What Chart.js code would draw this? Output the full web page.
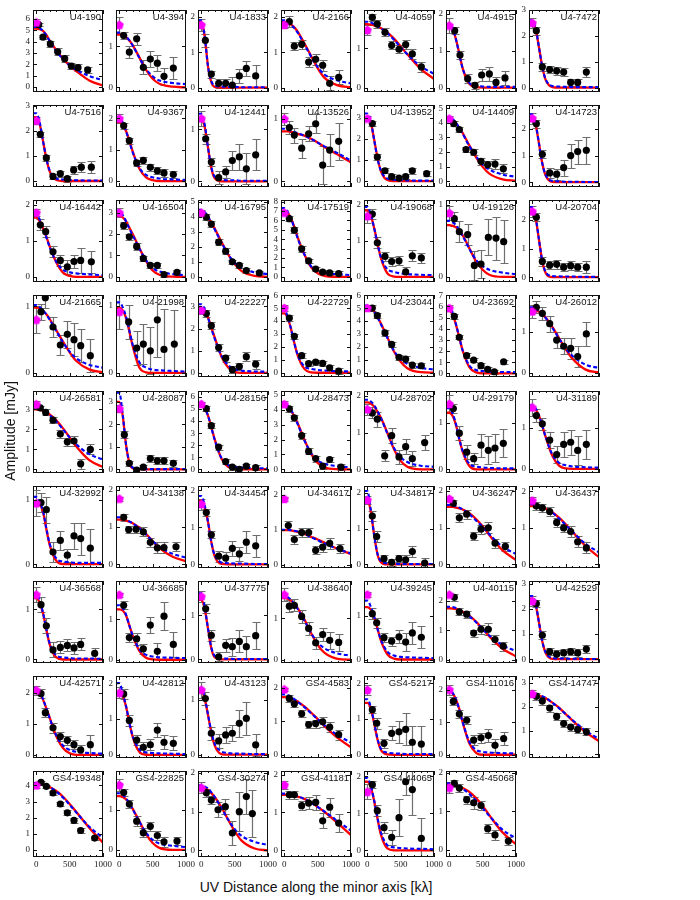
<!DOCTYPE html>
<html>
<head>
<meta charset="utf-8">
<script src="https://cdn.jsdelivr.net/npm/chart.js@4.4.0/dist/chart.umd.min.js"></script>
<style>
body { margin: 0; background: #fff; width: 700px; height: 900px; position: relative; overflow: hidden; font-family: "Liberation Sans", Arial, sans-serif; }
canvas { position: absolute; }
.title { position: absolute; color: #111; font-size: 14px; white-space: nowrap; }
#xt { left: 316px; top: 879px; transform: translateX(-50%); }
#yt { left: 10px; top: 431px; transform: translate(-50%, -50%) rotate(-90deg); }
</style>
</head>
<body>
<div id="fig"></div>
<div class="title" id="xt">UV Distance along the minor axis [kλ]</div>
<div class="title" id="yt">Amplitude [mJy]</div>
<script>
const NAMES = [
  'U4-190','U4-394','U4-1833','U4-2166','U4-4059','U4-4915','U4-7472',
  'U4-7516','U4-9367','U4-12441','U4-13526','U4-13952','U4-14409','U4-14723',
  'U4-16442','U4-16504','U4-16795','U4-17519','U4-19068','U4-19126','U4-20704',
  'U4-21665','U4-21998','U4-22227','U4-22729','U4-23044','U4-23692','U4-26012',
  'U4-26581','U4-28087','U4-28156','U4-28473','U4-28702','U4-29179','U4-31189',
  'U4-32992','U4-34138','U4-34454','U4-34617','U4-34817','U4-36247','U4-36437',
  'U4-36568','U4-36685','U4-37775','U4-38640','U4-39245','U4-40115','U4-42529',
  'U4-42571','U4-42812','U4-43123','GS4-4583','GS4-5217','GS4-11016','GS4-14747',
  'GS4-19348','GS4-22825','GS4-30274','GS4-41181','GS4-44065','GS4-45068'
];

const Y_MAX = [6.8,1.88,2.19,2.19,1.98,2.1,3.0, 3.03,2.43,1.47,1.22,3.6,5.22,2.9,
  2.14,3.59,5.1,8.16,2.14,1.07,2.7, 1.17,1.16,3.52,6.02,6.02,7.03,1.9,
  3.92,3.48,6.5,5.27,2.14,1.69,1.9, 1.22,2.1,2.12,2.26,2.19,2.14,2.15,
  1.56,1.95,1.78,1.91,1.8,2.67,3.1, 2.54,2.2,1.43,2.35,2.2,2.42,3.3,
  4.89,1.98,2.05,2.1,2.14,2.04];
const Y_MIN = [-0.45,-0.11,-0.125,-0.125,-0.11,-0.12,-0.17, -0.24,-0.19,-0.11,-0.09,-0.28,-0.4,-0.18,
  -0.14,-0.24,-0.34,-0.54,-0.14,-0.07,-0.17, -0.06,-0.06,-0.19,-0.33,-0.33,-0.33,-0.1,
  -0.18,-0.16,-0.31,-0.25,-0.1,-0.08,-0.1, -0.06,-0.1,-0.1,-0.1,-0.1,-0.1,-0.1,
  -0.07,-0.08,-0.08,-0.08,-0.08,-0.1,-0.15, -0.1,-0.09,-0.06,-0.1,-0.09,-0.1,-0.15,
  -0.43,-0.18,-0.17,-0.18,-0.18,-0.18];

// binned visibilities (x in k-lambda, amplitude, error)
const PT_X = [
  [35,100,210,320,425,525,625,770],[65,150,260,360,465,570,670,810],[60,150,260,365,465,570,675,815],
  [75,150,260,365,470,575,680,815],[75,150,265,365,475,575,675,810],[80,160,275,385,485,600,700,835],
  [60,150,260,365,470,575,680,810],
  [60,150,250,360,465,560,675,825],[65,150,260,360,465,570,670,810],[65,150,260,365,465,570,675,815],
  [75,150,260,365,470,575,680,815],[75,150,265,365,475,575,675,890],[65,150,250,365,475,575,685,810],
  [60,150,260,365,470,575,680,810],
  [60,140,250,360,465,565,665,825],[65,150,260,360,465,570,670,865],[75,150,260,365,465,570,675,870],
  [75,150,260,365,470,575,680,815],[75,150,265,365,475,575,675,810],[75,150,275,375,475,585,700,815],
  [60,150,260,365,470,575,680,810],
  [70,135,250,360,465,565,665,810],[140,260,360,465,570,670,825],[75,150,260,365,465,570,675,815],
  [75,150,260,365,470,575,680,815],[75,150,265,365,475,575,675,810],[75,150,260,365,475,575,675,815],
  [60,150,260,365,470,575,680,810],
  [60,140,250,360,465,565,665,810],[75,150,260,360,465,570,670,810],[75,150,260,365,465,570,675,815],
  [75,150,260,365,470,575,680,850],[75,150,260,365,475,575,675,860],[60,150,260,365,475,585,685,810],
  [60,150,260,365,470,575,680,810],
  [70,150,250,360,465,565,665,810],[65,140,250,360,465,570,670,850],[75,150,260,365,465,570,675,815],
  [60,150,260,365,470,575,680,835],[75,140,250,365,475,575,675,860],[60,150,260,365,475,585,685,840],
  [60,150,260,365,470,575,680,810],
  [70,150,250,360,465,565,665,875],[65,150,260,360,465,570,670,810],[65,150,260,365,465,570,675,815],
  [75,150,260,365,470,575,680,815],[75,140,250,365,475,575,675,810],[75,150,260,365,475,585,685,810],
  [60,150,260,365,470,575,680,810],
  [70,135,250,360,465,565,665,810],[65,150,260,360,465,570,670,810],[60,150,260,365,465,570,675,815],
  [75,150,260,365,470,575,680,815],[75,140,250,365,475,575,675,810],[60,150,260,365,475,585,685,815],
  [60,150,260,365,470,575,680,810],
  [70,150,250,360,465,565,665,875],[65,150,260,360,465,570,670,865],[75,150,250,360,465,570,675,765],
  [75,150,260,365,470,575,680,815],[75,150,250,365,475,575,675,810],[75,150,260,365,475,575,685,885]
];
const PT_Y = [
  [5.5,4.4,3.8,3.1,2.5,1.85,1.7,1.5],[1.26,0.86,1.18,0.49,0.69,0.59,0.27,0.47],[1.33,0.38,0.12,0.12,0.07,0.33,0.54,0.33],
  [1.86,1.17,1.22,0.72,0.8,0.63,0.12,0.29],[1.79,1.62,1.41,1.08,0.98,1.1,0.86,0.53],[1.54,0.88,0.24,0.06,0.34,0.37,0.14,0.26],
  [2.2,0.8,0.7,0.65,0.6,0.2,0.2,0.6],
  [1.86,0.92,0.18,0.29,0.09,0.44,0.55,0.55],[1.77,1.29,0.58,0.66,0.44,0.33,0.26,0.21],[0.82,0.37,0.07,0.18,0.4,0.47,0.24,0.51],
  [0.86,0.74,0.53,0.76,0.92,0.26,0.5,0.64],[2.72,1.14,0.49,0.21,0.14,0.21,0.49,0.35],[3.95,3.54,2.17,1.98,1.36,1.13,1.17,0.85],
  [2.2,1.05,0.35,0.3,0.55,1.0,1.15,1.2],
  [1.45,1.26,0.7,0.46,0.28,0.43,0.46,0.42],[2.39,1.87,1.42,0.86,0.54,0.54,0.11,0.21],[3.96,3.5,2.3,1.7,1.0,0.76,0.42,0.26],
  [6.18,4.96,2.98,1.7,0.83,0.51,0.42,0.35],[1.75,0.95,0.57,0.43,0.45,0.14,0.59,0.53],[0.81,0.63,0.59,0.16,0.18,0.55,0.54,0.49],
  [2.1,0.55,0.42,0.45,0.35,0.4,0.35,0.35],
  [0.92,1.13,0.69,0.42,0.58,0.5,0.41,0.26],[0.76,0.37,0.43,0.33,0.79,0.35,0.43],[2.68,2.13,1.14,0.66,0.14,0.28,0.73,0.39],
  [4.24,2.82,1.32,0.71,0.82,0.73,0.38,0.12],[5.01,4.42,3.08,2.19,1.2,1.06,0.59,0.54],[5.11,3.24,1.59,1.18,0.69,0.36,0.14,1.04],
  [1.6,1.45,1.2,0.8,0.65,0.6,0.4,0.95],
  [3.08,2.85,2.46,1.77,1.38,1.42,0.28,1.0],[1.54,0.27,-0.03,0.1,0.48,0.38,0.38,0.27],[5.03,3.62,1.84,0.64,0.18,0.0,0.26,0.13],
  [4.07,3.47,2.27,1.2,0.72,0.21,0.66,0.14],[1.54,1.37,0.37,0.92,0.34,0.62,0.29,0.73],[1.31,0.78,0.37,0.23,0.52,0.41,0.46,0.56],
  [1.3,1.1,0.7,0.35,0.6,0.65,0.45,0.6],
  [0.96,0.85,0.19,0.37,0.14,0.44,0.4,0.25],[1.26,0.93,0.94,0.87,0.59,0.44,0.45,0.47],[1.4,0.8,0.22,0.17,0.43,0.28,0.6,0.5],
  [1.12,0.72,0.92,0.92,0.41,0.5,0.61,0.46],[1.35,0.78,0.16,0.06,0.16,0.13,0.36,0.04],[1.67,1.27,1.37,0.77,0.96,1.0,0.58,0.49],
  [1.6,1.55,1.45,1.15,1.0,0.9,0.62,0.45],
  [1.09,0.67,0.19,0.24,0.28,0.23,0.3,0.12],[1.35,0.55,0.52,0.27,0.86,0.21,1.08,0.38],[1.15,0.55,0.06,0.32,0.29,0.41,0.29,0.54],
  [1.3,1.32,1.05,0.76,0.41,0.61,0.47,0.42],[1.05,0.84,0.5,0.42,0.52,0.4,0.61,0.51],[2.12,1.63,1.55,0.91,1.04,1.04,0.69,0.47],
  [2.2,0.95,0.3,0.2,0.25,0.3,0.25,0.4],
  [1.97,1.36,0.87,0.59,0.47,0.33,0.16,0.33],[1.7,0.96,0.41,0.21,0.28,0.69,0.35,0.32],[1.02,0.39,0.25,0.36,0.39,0.57,0.66,0.18],
  [1.68,1.52,1.22,0.9,0.93,0.98,0.82,0.6],[1.26,0.88,0.32,0.6,0.64,0.71,0.35,0.3],[1.64,1.25,1.06,0.45,0.52,0.59,0.29,0.5],
  [2.45,2.25,1.95,1.6,1.3,1.15,1.05,0.95],
  [4.19,3.94,3.53,2.85,2.3,1.83,1.21,0.74],[1.44,1.15,0.72,0.43,0.59,0.36,0.2,0.22],[1.49,1.3,1.05,1.13,0.45,1.0,1.39,0.95],
  [1.47,1.47,1.18,1.25,1.27,0.78,1.14,0.72],[1.77,1.07,0.61,0.35,0.88,1.85,1.64,0.32],[1.72,1.6,1.3,1.22,1.15,0.55,0.39,0.23]
];
const PT_ERR = [
  [0.15,0.2,0.25,0.3,0.3,0.3,0.3,0.3],[0.08,0.14,0.14,0.17,0.19,0.2,0.2,0.26],[0.19,0.1,0.13,0.13,0.22,0.2,0.2,0.3],
  [0.15,0.12,0.12,0.13,0.15,0.15,0.2,0.2],[0.1,0.1,0.1,0.1,0.1,0.12,0.12,0.12],[0.1,0.12,0.12,0.1,0.15,0.18,0.14,0.2],
  [0.15,0.15,0.15,0.15,0.15,0.15,0.15,0.2],
  [0.1,0.12,0.1,0.12,0.12,0.15,0.2,0.25],[0.1,0.1,0.1,0.12,0.12,0.12,0.12,0.12],[0.1,0.08,0.12,0.12,0.18,0.25,0.3,0.3],
  [0.1,0.12,0.15,0.12,0.15,0.3,0.25,0.3],[0.1,0.12,0.12,0.12,0.12,0.12,0.15,0.12],[0.15,0.2,0.2,0.2,0.25,0.25,0.35,0.3],
  [0.15,0.15,0.2,0.2,0.3,0.45,0.45,0.5],
  [0.15,0.15,0.15,0.15,0.2,0.18,0.35,0.3],[0.15,0.15,0.15,0.12,0.12,0.12,0.12,0.12],[0.2,0.2,0.2,0.2,0.15,0.15,0.15,0.15],
  [0.3,0.3,0.3,0.25,0.25,0.25,0.25,0.25],[0.15,0.15,0.12,0.12,0.12,0.15,0.15,0.15],[0.1,0.15,0.15,0.2,0.2,0.25,0.3,0.3],
  [0.15,0.15,0.15,0.15,0.15,0.15,0.15,0.2],
  [0.12,0.15,0.15,0.15,0.2,0.25,0.25,0.25],[0.25,0.25,0.3,0.35,0.55,0.6,0.5],[0.15,0.15,0.15,0.15,0.15,0.15,0.2,0.2],
  [0.2,0.2,0.2,0.2,0.2,0.2,0.2,0.25],[0.2,0.2,0.2,0.2,0.2,0.2,0.2,0.2],[0.2,0.2,0.2,0.2,0.2,0.2,0.2,0.2],
  [0.15,0.15,0.2,0.2,0.2,0.25,0.25,0.3],
  [0.1,0.15,0.15,0.2,0.2,0.25,0.25,0.25],[0.15,0.1,0.1,0.1,0.15,0.15,0.15,0.15],[0.2,0.2,0.2,0.2,0.2,0.2,0.2,0.2],
  [0.2,0.2,0.2,0.2,0.2,0.2,0.2,0.2],[0.15,0.2,0.15,0.2,0.2,0.2,0.2,0.2],[0.1,0.15,0.15,0.12,0.25,0.3,0.3,0.3],
  [0.15,0.15,0.2,0.2,0.3,0.3,0.35,0.35],
  [0.15,0.2,0.15,0.15,0.1,0.2,0.25,0.3],[0.1,0.1,0.1,0.12,0.12,0.15,0.15,0.12],[0.1,0.1,0.15,0.15,0.2,0.2,0.3,0.3],
  [0.12,0.12,0.12,0.12,0.12,0.15,0.15,0.12],[0.15,0.15,0.1,0.1,0.1,0.12,0.15,0.15],[0.1,0.12,0.12,0.1,0.12,0.15,0.12,0.12],
  [0.1,0.1,0.12,0.12,0.12,0.15,0.15,0.15],
  [0.15,0.15,0.15,0.12,0.12,0.12,0.12,0.1],[0.1,0.12,0.15,0.12,0.2,0.2,0.35,0.3],[0.1,0.12,0.1,0.15,0.2,0.25,0.25,0.3],
  [0.15,0.15,0.15,0.15,0.15,0.15,0.2,0.2],[0.12,0.12,0.1,0.1,0.15,0.2,0.25,0.25],[0.12,0.12,0.12,0.12,0.15,0.2,0.15,0.15],
  [0.15,0.15,0.15,0.15,0.15,0.15,0.15,0.15],
  [0.15,0.15,0.15,0.15,0.15,0.15,0.15,0.3],[0.15,0.15,0.15,0.15,0.15,0.2,0.2,0.2],[0.12,0.12,0.12,0.15,0.15,0.25,0.3,0.2],
  [0.1,0.1,0.1,0.1,0.12,0.15,0.15,0.15],[0.1,0.15,0.12,0.2,0.3,0.45,0.45,0.5],[0.12,0.12,0.12,0.15,0.15,0.2,0.2,0.2],
  [0.15,0.15,0.15,0.15,0.15,0.15,0.15,0.15],
  [0.1,0.1,0.15,0.15,0.15,0.15,0.15,0.1],[0.1,0.1,0.12,0.12,0.12,0.12,0.12,0.1],[0.1,0.1,0.2,0.2,0.3,0.5,0.45,0.6],
  [0.1,0.1,0.12,0.15,0.2,0.2,0.25,0.25],[0.1,0.15,0.15,0.2,0.5,0.35,0.7,0.55],[0.1,0.1,0.1,0.15,0.12,0.12,0.12,0.1]
];

// magenta point at zero spacing
const MAG_Y = [5.7,1.52,1.77,1.77,1.47,1.68,2.5, 2.41,2.0,1.21,1.0,2.96,4.29,2.4,
  1.79,3.0,4.26,6.82,1.69,0.89,2.3, 0.8,0.91,2.83,5.01,5.01,5.85,1.5,
  3.26,2.7,5.41,4.38,1.64,1.41,1.5, 0.95,1.76,1.63,1.89,1.8,1.79,1.75,
  1.29,1.61,1.43,1.58,1.49,2.21,2.3, 2.08,1.73,1.18,1.95,1.81,2.0,2.55,
  4.0,1.63,1.62,1.73,1.58,1.61];
const MAG_ERR = [0.3,0.2,0.17,0.1,0.12,0.2,0.2, 0.15,0.15,0.15,0.1,0.12,0.2,0.2,
  0.1,0.2,0.2,0.3,0.2,0.1,0.2, 0.2,0.25,0.15,0.2,0.2,0.3,0.15,
  0.15,0.15,0.2,0.2,0.15,0.2,0.2, 0.2,0.05,0.15,0.05,0.12,0.05,0.1,
  0.15,0.05,0.12,0.15,0.05,0.05,0.2, 0.15,0.15,0.15,0.05,0.15,0.15,0.15,
  0.15,0.15,0.15,0.1,0.2,0.15];

// model curves read at these x positions
const CURVE_X = [0,50,100,150,200,300,400,500,600,800,1000];
const RED = [
  [5.15,5.1,4.95,4.6,4.1,3.25,2.5,1.9,1.4,0.55,0.12],[1.28,1.26,1.22,1.14,1.03,0.73,0.43,0.21,0.09,0.02,0],
  [1.85,1.45,0.6,0.15,0.02,0,0,0,0,0,0],[1.85,1.83,1.78,1.7,1.58,1.25,0.9,0.55,0.28,0.06,0.01],
  [1.62,1.61,1.59,1.56,1.52,1.41,1.25,1.05,0.85,0.48,0.22],[1.7,1.6,1.3,0.92,0.52,0.1,0.01,0,0,0,0],
  [2.5,2.25,1.55,0.8,0.3,0.02,0,0,0,0,0],
  [2.55,2.27,1.6,0.9,0.38,0.04,0,0,0,0,0],[1.88,1.8,1.6,1.3,0.95,0.4,0.12,0.03,0,0,0],
  [1.2,1.05,0.65,0.25,0.06,0,0,0,0,0,0],[0.8,0.8,0.79,0.78,0.76,0.73,0.68,0.62,0.55,0.43,0.3],
  [3.0,2.8,2.0,1.15,0.5,0.05,0,0,0,0,0],[4.2,4.13,3.95,3.65,3.3,2.45,1.65,0.98,0.52,0.12,0.03],
  [2.45,2.15,1.45,0.7,0.25,0.01,0,0,0,0,0],
  [1.65,1.55,1.35,1.12,0.85,0.4,0.12,0.03,0,0,0],[2.85,2.78,2.6,2.3,2.0,1.35,0.75,0.3,0.1,0.01,0],
  [4.3,4.2,3.95,3.6,3.2,2.35,1.5,0.85,0.4,0.06,0],[7.0,6.8,6.2,5.3,4.2,2.4,1.05,0.38,0.12,0.01,0],
  [1.85,1.72,1.38,0.95,0.55,0.1,0.01,0,0,0,0],[0.72,0.71,0.69,0.64,0.58,0.4,0.22,0.1,0.03,0,0],
  [2.35,2.05,1.3,0.55,0.15,0,0,0,0,0,0],
  [0.98,0.97,0.93,0.88,0.81,0.64,0.47,0.31,0.18,0.05,0.01],[0.97,0.93,0.82,0.62,0.4,0.08,0.01,0,0,0,0],
  [2.9,2.8,2.5,2.05,1.6,0.75,0.25,0.05,0,0,0],[4.6,4.25,3.4,2.3,1.35,0.3,0.03,0,0,0,0],
  [5.1,5.0,4.75,4.35,3.85,2.75,1.65,0.85,0.35,0.04,0],[5.6,5.25,4.35,3.2,2.05,0.55,0.08,0,0,0,0],
  [1.55,1.53,1.49,1.43,1.35,1.12,0.85,0.58,0.35,0.08,0.01],
  [3.0,2.98,2.93,2.85,2.75,2.45,2.05,1.6,1.15,0.45,0.12],[3.0,2.4,1.1,0.3,0.05,0,0,0,0,0,0],
  [5.3,5.05,4.45,3.5,2.5,0.9,0.2,0.03,0,0,0],[4.3,4.2,3.95,3.55,3.1,2.0,1.05,0.42,0.13,0.01,0],
  [1.83,1.8,1.72,1.58,1.42,1.0,0.55,0.23,0.07,0,0],[1.22,1.15,0.95,0.65,0.38,0.07,0,0,0,0,0],
  [1.5,1.45,1.3,1.05,0.78,0.32,0.08,0.01,0,0,0],
  [0.95,0.93,0.82,0.55,0.3,0.05,0,0,0,0,0],[1.2,1.19,1.17,1.14,1.1,0.98,0.82,0.62,0.44,0.2,0.08],
  [1.72,1.55,1.15,0.6,0.22,0.01,0,0,0,0,0],[0.99,0.99,0.98,0.96,0.94,0.88,0.8,0.72,0.63,0.45,0.3],
  [1.78,1.5,0.85,0.3,0.07,0,0,0,0,0,0],[1.57,1.57,1.55,1.53,1.5,1.4,1.24,1.04,0.8,0.38,0.12],
  [1.6,1.6,1.58,1.56,1.53,1.43,1.28,1.1,0.9,0.5,0.2],
  [1.22,1.13,0.92,0.6,0.3,0.04,0,0,0,0,0],[1.25,1.22,1.1,0.85,0.6,0.22,0.05,0.01,0,0,0],
  [1.35,1.15,0.7,0.25,0.05,0,0,0,0,0,0],[1.5,1.48,1.43,1.35,1.25,0.98,0.65,0.36,0.17,0.02,0],
  [1.2,1.15,0.98,0.72,0.45,0.12,0.02,0,0,0,0],[1.75,1.74,1.72,1.68,1.63,1.5,1.3,1.05,0.8,0.38,0.12],
  [2.4,2.15,1.45,0.7,0.25,0.01,0,0,0,0,0],
  [2.05,1.98,1.78,1.5,1.2,0.6,0.22,0.05,0,0,0],[1.75,1.65,1.35,0.9,0.5,0.08,0,0,0,0,0],
  [1.15,1.02,0.72,0.4,0.17,0.01,0,0,0,0,0],[1.72,1.71,1.68,1.64,1.58,1.44,1.26,1.06,0.86,0.5,0.22],
  [1.45,1.3,0.9,0.45,0.15,0.01,0,0,0,0,0],[1.95,1.88,1.7,1.4,1.0,0.35,0.06,0,0,0,0],
  [2.5,2.49,2.46,2.42,2.36,2.18,1.97,1.7,1.43,0.94,0.56],
  [4.1,4.09,4.05,3.98,3.9,3.65,3.3,2.85,2.35,1.35,0.45],[1.35,1.33,1.27,1.17,1.03,0.72,0.4,0.17,0.05,0,0],
  [1.62,1.6,1.56,1.48,1.38,1.12,0.8,0.5,0.26,0.05,0],[1.47,1.47,1.46,1.44,1.42,1.36,1.27,1.15,1.02,0.72,0.4],
  [1.85,1.72,1.35,0.88,0.45,0.05,0,0,0,0,0],[1.68,1.68,1.66,1.63,1.6,1.5,1.34,1.14,0.9,0.45,0.15]
];
const BLUE = [
  [5.3,5.2,4.95,4.55,4.05,3.15,2.45,1.9,1.5,0.95,0.6],[1.33,1.3,1.24,1.14,1.02,0.72,0.45,0.27,0.17,0.11,0.08],
  [1.9,1.45,0.6,0.18,0.06,0.03,0.02,0.02,0.01,0.01,0.01],[1.9,1.86,1.78,1.68,1.55,1.22,0.88,0.58,0.37,0.2,0.12],
  [1.68,1.66,1.62,1.57,1.52,1.39,1.22,1.03,0.85,0.55,0.35],[1.72,1.62,1.3,0.9,0.52,0.13,0.05,0.03,0.02,0.02,0.02],
  [2.6,2.3,1.55,0.8,0.32,0.06,0.04,0.03,0.02,0.02,0.02],
  [2.7,2.35,1.6,0.9,0.42,0.1,0.06,0.04,0.03,0.02,0.02],[2.0,1.88,1.6,1.25,0.92,0.42,0.2,0.12,0.08,0.05,0.04],
  [1.3,1.1,0.65,0.27,0.09,0.03,0.02,0.02,0.01,0.01,0.01],[0.84,0.83,0.81,0.79,0.77,0.73,0.68,0.62,0.56,0.45,0.33],
  [3.2,2.85,2.0,1.1,0.52,0.12,0.06,0.04,0.03,0.02,0.02],[4.35,4.25,4.0,3.65,3.25,2.4,1.7,1.15,0.8,0.45,0.3],
  [2.55,2.2,1.45,0.7,0.27,0.05,0.03,0.02,0.02,0.01,0.01],
  [1.72,1.6,1.38,1.1,0.83,0.42,0.2,0.13,0.1,0.07,0.05],[3.1,2.9,2.6,2.25,1.95,1.33,0.78,0.42,0.25,0.13,0.08],
  [4.45,4.3,4.0,3.6,3.15,2.3,1.5,0.95,0.6,0.3,0.18],[7.3,6.9,6.2,5.2,4.1,2.4,1.15,0.6,0.42,0.28,0.2],
  [1.95,1.75,1.38,0.95,0.57,0.22,0.14,0.1,0.08,0.06,0.05],[0.78,0.76,0.72,0.65,0.57,0.39,0.24,0.15,0.1,0.06,0.04],
  [2.45,2.1,1.3,0.55,0.18,0.04,0.03,0.02,0.02,0.01,0.01],
  [1.02,0.99,0.94,0.88,0.8,0.63,0.46,0.32,0.22,0.12,0.08],[1.05,0.98,0.84,0.63,0.42,0.16,0.08,0.05,0.04,0.03,0.02],
  [3.1,2.9,2.5,2.0,1.55,0.78,0.35,0.17,0.1,0.06,0.05],[4.85,4.35,3.4,2.3,1.38,0.5,0.3,0.22,0.17,0.12,0.1],
  [5.2,5.05,4.75,4.3,3.8,2.7,1.7,1.05,0.7,0.38,0.25],[5.9,5.4,4.4,3.2,2.05,0.7,0.3,0.2,0.15,0.12,0.1],
  [1.6,1.57,1.51,1.43,1.34,1.1,0.84,0.6,0.42,0.2,0.12],
  [3.1,3.05,2.97,2.86,2.72,2.4,2.0,1.6,1.25,0.75,0.5],[3.4,2.45,1.1,0.32,0.08,0.02,0.01,0.01,0.01,0.01,0.01],
  [5.5,5.15,4.45,3.45,2.45,0.95,0.35,0.2,0.15,0.1,0.08],[4.45,4.3,4.0,3.55,3.05,1.95,1.1,0.6,0.38,0.2,0.13],
  [1.9,1.86,1.76,1.6,1.42,0.98,0.58,0.33,0.2,0.1,0.07],[1.32,1.2,0.97,0.65,0.4,0.12,0.06,0.04,0.03,0.02,0.02],
  [1.55,1.48,1.3,1.05,0.78,0.35,0.15,0.09,0.06,0.04,0.03],
  [1.05,0.97,0.83,0.56,0.32,0.09,0.04,0.03,0.02,0.02,0.02],[1.26,1.24,1.2,1.15,1.1,0.97,0.8,0.62,0.47,0.28,0.18],
  [1.85,1.6,1.15,0.6,0.25,0.05,0.03,0.02,0.02,0.01,0.01],[1.0,1.0,0.99,0.97,0.95,0.88,0.79,0.7,0.61,0.45,0.32],
  [2.05,1.55,0.85,0.32,0.1,0.03,0.02,0.01,0.01,0.01,0.01],[1.62,1.61,1.59,1.55,1.5,1.37,1.2,1.02,0.82,0.48,0.28],
  [1.65,1.64,1.62,1.58,1.54,1.42,1.26,1.08,0.9,0.56,0.33],
  [1.32,1.18,0.93,0.6,0.32,0.08,0.04,0.03,0.02,0.02,0.01],[1.35,1.28,1.12,0.85,0.6,0.26,0.12,0.08,0.06,0.05,0.04],
  [1.5,1.2,0.7,0.27,0.08,0.02,0.02,0.01,0.01,0.01,0.01],[1.55,1.52,1.45,1.35,1.23,0.95,0.65,0.42,0.28,0.15,0.1],
  [1.35,1.22,1.0,0.72,0.47,0.18,0.09,0.06,0.05,0.04,0.03],[1.8,1.79,1.76,1.7,1.63,1.48,1.28,1.05,0.83,0.5,0.3],
  [2.5,2.2,1.45,0.7,0.27,0.05,0.03,0.02,0.02,0.01,0.01],
  [2.15,2.03,1.8,1.5,1.18,0.62,0.3,0.16,0.1,0.06,0.04],[2.0,1.72,1.37,0.9,0.52,0.15,0.07,0.05,0.04,0.03,0.02],
  [1.2,1.05,0.73,0.42,0.2,0.06,0.03,0.02,0.02,0.01,0.01],[1.8,1.78,1.73,1.66,1.58,1.42,1.24,1.06,0.88,0.58,0.36],
  [1.55,1.35,0.92,0.47,0.18,0.06,0.04,0.03,0.02,0.02,0.02],[2.0,1.9,1.7,1.38,1.0,0.4,0.15,0.09,0.07,0.05,0.04],
  [2.55,2.54,2.5,2.45,2.38,2.18,1.95,1.7,1.45,1.0,0.65],
  [4.15,4.13,4.08,4.0,3.9,3.62,3.25,2.8,2.32,1.42,0.75],[1.42,1.38,1.3,1.17,1.02,0.71,0.43,0.25,0.16,0.1,0.07],
  [1.68,1.65,1.6,1.5,1.38,1.1,0.8,0.55,0.38,0.22,0.14],[1.5,1.5,1.48,1.46,1.43,1.36,1.26,1.15,1.03,0.77,0.52],
  [1.95,1.75,1.37,0.9,0.5,0.14,0.08,0.06,0.05,0.04,0.03],[1.72,1.71,1.68,1.64,1.58,1.45,1.28,1.08,0.88,0.52,0.3]
];

const X_MIN = -50, X_MAX = 1000;
const X_MAJOR = [0, 500, 1000];
const X_MINOR = [100, 200, 300, 400, 600, 700, 800, 900];

// layout of the panel grid
const GRID_L = 33, GRID_R = 599, GRID_T = 6, GRID_B = 857;
const PW = 70, PH = 90, COLS = 7, ROWS = 9;
const ML = 16, MR = 12, MB = 15;

function colX(c) { return GRID_L + c * (GRID_R - GRID_L - PW) / (COLS - 1); }
function rowY(r) { return GRID_T + r * (GRID_B - GRID_T - PH) / (ROWS - 1); }

const pentagon = (function () {
  const c = document.createElement('canvas');
  c.width = 10; c.height = 10;
  const g = c.getContext('2d');
  g.fillStyle = '#ff00ff';
  g.beginPath();
  for (let k = 0; k < 5; k++) {
    const a = -Math.PI / 2 + k * 2 * Math.PI / 5;
    const px = 5 + 4.8 * Math.cos(a), py = 5.4 + 4.8 * Math.sin(a);
    if (k) g.lineTo(px, py); else g.moveTo(px, py);
  }
  g.closePath();
  g.fill();
  return c;
})();

function curve(vals) {
  const pts = [{ x: X_MIN, y: vals[0] }];
  CURVE_X.forEach((x, k) => pts.push({ x: x, y: vals[k] }));
  return pts;
}

function panelPlugin(i, bottomRow) {
  return {
    id: 'panel' + i,
    beforeDatasetsDraw(chart) {
      const { ctx, chartArea: a, scales: { x, y } } = chart;
      ctx.save();
      ctx.beginPath();
      ctx.rect(a.left, a.top, a.right - a.left, a.bottom - a.top);
      ctx.clip();
      ctx.strokeStyle = '#6e6e6e';
      ctx.lineWidth = 1.2;
      const bars = PT_X[i].map((v, k) => [v, PT_Y[i][k], PT_ERR[i][k]]);
      bars.push([0, MAG_Y[i], MAG_ERR[i]]);
      bars.forEach(([vx, vy, e]) => {
        const px = Math.round(x.getPixelForValue(vx)) + 0.5;
        const y1 = Math.round(y.getPixelForValue(vy - e)) + 0.5;
        const y2 = Math.round(y.getPixelForValue(vy + e)) + 0.5;
        ctx.beginPath();
        ctx.moveTo(px, y1); ctx.lineTo(px, y2);
        ctx.moveTo(px - 4, y1); ctx.lineTo(px + 4, y1);
        ctx.moveTo(px - 4, y2); ctx.lineTo(px + 4, y2);
        ctx.stroke();
      });
      ctx.restore();
    },
    afterDraw(chart) {
      const { ctx, chartArea: a, scales: { x, y } } = chart;
      ctx.save();
      ctx.strokeStyle = '#111';
      ctx.lineWidth = 1;
      ctx.beginPath();
      X_MAJOR.forEach(v => {
        const px = Math.round(x.getPixelForValue(v)) + 0.5;
        ctx.moveTo(px, a.bottom); ctx.lineTo(px, a.bottom - 4);
        ctx.moveTo(px, a.top); ctx.lineTo(px, a.top + 4);
      });
      X_MINOR.forEach(v => {
        const px = Math.round(x.getPixelForValue(v)) + 0.5;
        ctx.moveTo(px, a.bottom); ctx.lineTo(px, a.bottom - 2);
        ctx.moveTo(px, a.top); ctx.lineTo(px, a.top + 2);
      });
      const yTicks = [];
      for (let v = 0; v <= Y_MAX[i] + 1e-9; v += 1) yTicks.push(v);
      yTicks.forEach(v => {
        const py = Math.round(y.getPixelForValue(v)) + 0.5;
        ctx.moveTo(a.left, py); ctx.lineTo(a.left + 4, py);
        ctx.moveTo(a.right, py); ctx.lineTo(a.right - 4, py);
      });
      ctx.stroke();
      ctx.strokeRect(a.left + 0.5, a.top + 0.5, a.right - a.left - 1, a.bottom - a.top - 1);

      ctx.fillStyle = '#222';
      ctx.font = '9px "Liberation Serif", serif';
      ctx.textAlign = 'right';
      ctx.textBaseline = 'middle';
      yTicks.forEach(v => ctx.fillText(String(v), a.left - 3, y.getPixelForValue(v)));
      if (bottomRow) {
        ctx.textAlign = 'center';
        ctx.textBaseline = 'top';
        X_MAJOR.forEach(v => ctx.fillText(String(v), x.getPixelForValue(v), a.bottom + 3));
      }
      ctx.font = '9.5px "Liberation Sans", Arial, sans-serif';
      ctx.textAlign = 'right';
      ctx.textBaseline = 'top';
      ctx.fillStyle = '#111';
      ctx.fillText(NAMES[i], a.right - 2, a.top + 3);
      ctx.restore();
    }
  };
}

const fig = document.getElementById('fig');
NAMES.forEach((name, i) => {
  const r = Math.floor(i / COLS), c = i % COLS;
  const bottomRow = r === ROWS - 1;
  const mb = bottomRow ? MB : 1;
  const cv = document.createElement('canvas');
  cv.width = ML + PW + MR;
  cv.height = 1 + PH + mb;
  cv.style.left = (colX(c) - ML) + 'px';
  cv.style.top = (rowY(r) - 1) + 'px';
  fig.appendChild(cv);

  new Chart(cv, {
    type: 'scatter',
    data: {
      datasets: [
        { data: [{ x: 0, y: MAG_Y[i] }], pointStyle: pentagon, order: 0 },
        { data: PT_X[i].map((x, k) => ({ x: x, y: PT_Y[i][k] })), pointRadius: 3.6,
          backgroundColor: '#000', borderWidth: 0, order: 1 },
        { data: curve(BLUE[i]), showLine: true, pointRadius: 0, borderColor: '#0000ff', borderWidth: 2.1,
          borderDash: [4, 2.5], cubicInterpolationMode: 'monotone', order: 2 },
        { data: curve(RED[i]), showLine: true, pointRadius: 0, borderColor: '#ff0000', borderWidth: 2.3,
          cubicInterpolationMode: 'monotone', order: 3 }
      ]
    },
    options: {
      responsive: false,
      animation: false,
      devicePixelRatio: 1,
      events: [],
      layout: { padding: { left: ML, right: MR, top: 1, bottom: mb } },
      plugins: { legend: { display: false }, tooltip: { enabled: false } },
      scales: {
        x: { type: 'linear', min: X_MIN, max: X_MAX, display: false },
        y: { type: 'linear', min: Y_MIN[i], max: Y_MAX[i], display: false }
      }
    },
    plugins: [panelPlugin(i, bottomRow)]
  });
});
</script>
</body>
</html>
